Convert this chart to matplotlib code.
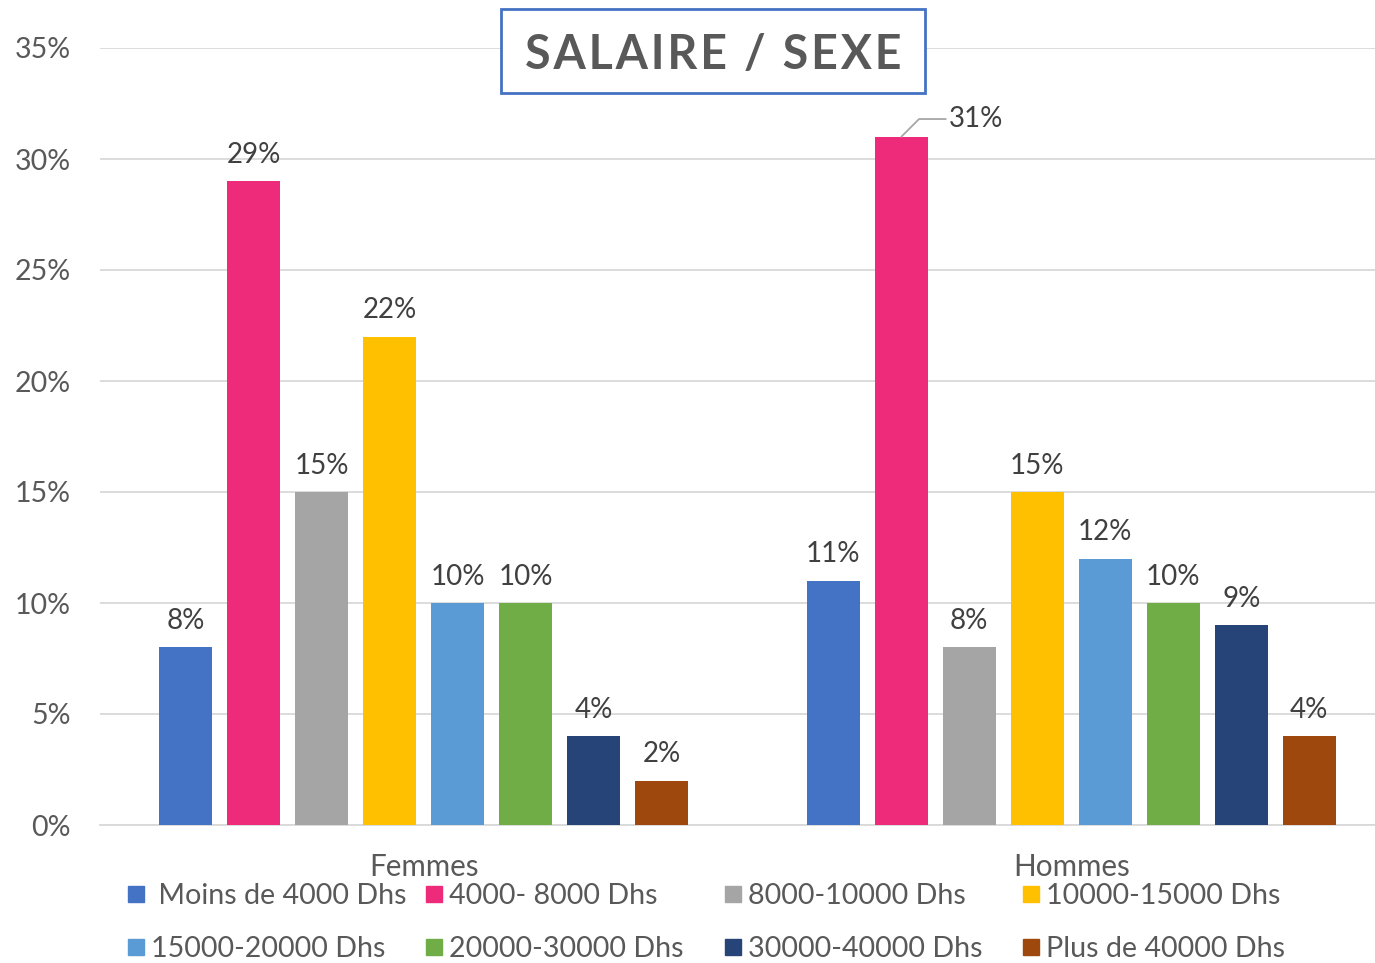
import matplotlib
matplotlib.use('Agg')
import matplotlib.pyplot as plt
from matplotlib.patches import Rectangle
import numpy as np

plt.rcParams['font.family'] = ['Lato', 'DejaVu Sans']

# Data
categories = ['Femmes', 'Hommes']
series = ['Moins de 4000 Dhs', '4000- 8000 Dhs', '8000-10000 Dhs', '10000-15000 Dhs',
          '15000-20000 Dhs', '20000-30000 Dhs', '30000-40000 Dhs', 'Plus de 40000 Dhs']
femmes = [8, 29, 15, 22, 10, 10, 4, 2]
hommes = [11, 31, 8, 15, 12, 10, 9, 4]
colors = ['#4472C4', '#EE2A7B', '#A5A5A5', '#FFC000',
          '#5B9BD5', '#70AD47', '#264478', '#9E480E']

W, H = 1375, 963
fig = plt.figure(figsize=(W / 100, H / 100), dpi=100)
ax = fig.add_axes([100 / W, 1 - 825 / H, 1 - 100 / W, (825 - 48) / H])

x = np.arange(len(categories))
step = 0.105
width = 0.082
values = np.array([femmes, hommes])
for i, (name, col) in enumerate(zip(series, colors)):
    pos = x + (i - 3.5) * step
    bars = ax.bar(pos, values[:, i], width, color=col, zorder=3)
    for j, b in enumerate(bars):
        v = values[j, i]
        cx = b.get_x() + b.get_width() / 2
        if j == 1 and i == 1:
            # label moved out with a leader line
            ax.annotate(f'{v}%', xy=(cx, v), xytext=(cx + 0.115, v + 0.8),
                        ha='center', va='center', fontsize=20, color='#404040',
                        arrowprops=dict(arrowstyle='-', color='#A6A6A6', lw=1.3,
                                        shrinkA=0, shrinkB=0,
                                        connectionstyle='angle,angleA=0,angleB=45,rad=0'))
        else:
            ax.annotate(f'{v}%', xy=(cx, v), xytext=(0, 19), textcoords='offset points',
                        ha='center', va='center', fontsize=20, color='#404040')

ax.set_xlim(-0.5, -0.5 + 1275 / 647.5)
ax.set_ylim(0, 35)
ax.set_yticks(range(0, 36, 5))
ax.set_yticklabels([f'{t}%' for t in range(0, 36, 5)])
ax.set_xticks([])
ax.tick_params(axis='y', length=0, pad=21, labelsize=20.5, labelcolor='#595959')
ax.grid(axis='y', color='#D9D9D9', lw=1.3, zorder=0)
for s in ['top', 'right', 'left']:
    ax.spines[s].set_visible(False)
ax.spines['bottom'].set_color('#D9D9D9')
ax.spines['bottom'].set_linewidth(1.3)

# category labels
for xi, c in zip(x, categories):
    ax.text(xi, -1.9, c, ha='center', va='center', fontsize=21.3, color='#595959')

# legend (Excel style grid, row-major)
col_x = [128, 426, 725, 1023]
row_y = [894, 947]
for k, (name, col) in enumerate(zip(series, colors)):
    r, c = divmod(k, 4)
    x0 = col_x[c]
    y0 = row_y[r]
    fig.add_artist(Rectangle((x0 / W, 1 - (y0 + 8) / H), 16 / W, 16 / H,
                             transform=fig.transFigure, color=col))
    label = (' ' + name) if k == 0 else name
    fig.text((x0 + 23) / W, 1 - (y0 + 2) / H, label, ha='left', va='center',
             fontsize=20.6, color='#595959')

# title box
fig.add_artist(Rectangle((501 / W, 1 - 93 / H), 424 / W, 84 / H,
                         transform=fig.transFigure, facecolor='white',
                         edgecolor='#4472C4', lw=2, zorder=5))
title = '\u200a'.join('SALAIRE / SEXE')
fig.text(713 / W, 1 - 55 / H, title, ha='center', va='center', fontsize=33.5,
         fontweight='bold', color='#595959', zorder=6)

fig.savefig('out.png', dpi=100, facecolor='white')
